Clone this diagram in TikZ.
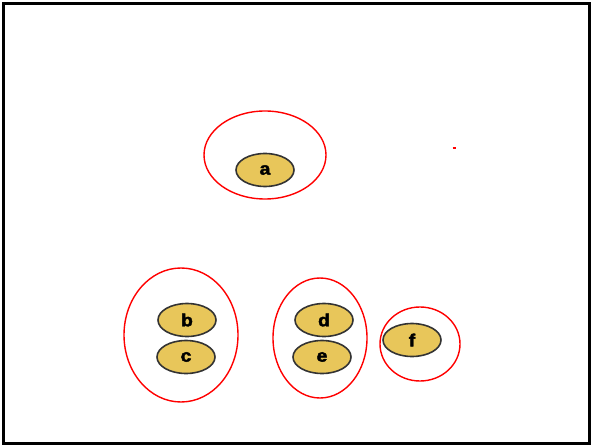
\documentclass[tikz,border=0pt]{standalone}
\usepackage{fontspec}
\setmainfont{Liberation Sans}
\newfontfamily\heavyfont[FakeBold=2.5,FakeStretch=1.1]{Liberation Sans Bold}
\usetikzlibrary{shapes.geometric}
\begin{document}
\begin{tikzpicture}[x=1pt,y=-1pt,
  leaf/.style={ellipse,draw=black!80,line width=1.6pt,fill=gold,minimum width=58pt,minimum height=33pt,inner sep=0pt,font=\heavyfont\fontsize{17.5}{17.5}\selectfont},
  grp/.style={draw=red,line width=1.4pt}]
\definecolor{gold}{HTML}{E8C65A}
\useasboundingbox (0,0) rectangle (591,446);
\draw[line width=3pt] (3.5,3.5) rectangle (589,443.5);
\node[leaf] (a) at (265,170) {a};
\node[leaf] (b) at (187,320) {b};
\node[leaf] (c) at (186,357) {c};
\node[leaf] (d) at (324,320) {d};
\node[leaf] (e) at (322,357) {e};
\node[leaf] (f) at (412,340) {f};
\draw[grp] (265,155) ellipse [x radius=61, y radius=44];
\draw[grp] (181,335) ellipse [x radius=57, y radius=67];
\draw[grp] (320,338) ellipse [x radius=47, y radius=60];
\draw[grp] (420,344) ellipse [x radius=40, y radius=37];
\draw[red,line width=1.2pt] (452.5,148) -- (456,148);
\end{tikzpicture}
\end{document}
